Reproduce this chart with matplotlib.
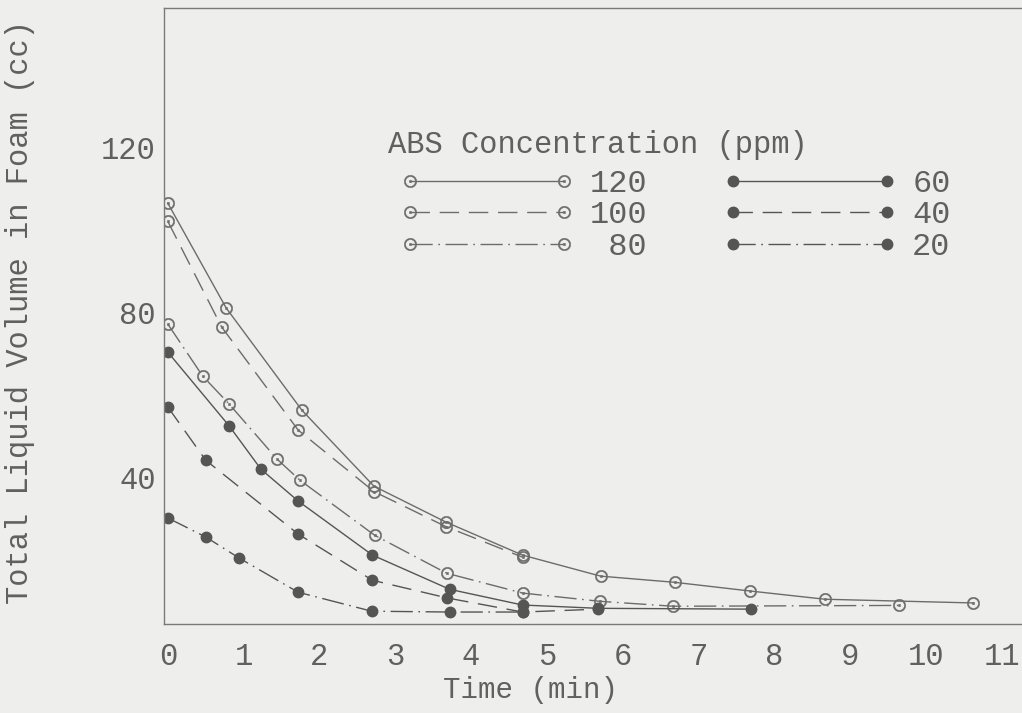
import matplotlib.pyplot as plt

# time (min) and liquid volume (cc)
t120 = [0, 0.77, 1.77, 2.72, 3.67, 4.68, 5.71, 6.69, 7.68, 8.67, 10.63]
v120 = [106.4, 81.0, 56.2, 37.8, 29.1, 21.1, 16.0, 14.5, 12.4, 10.4, 9.5]

t100 = [0, 0.71, 1.72, 2.72, 3.67, 4.68]
v100 = [102.0, 76.4, 51.4, 36.5, 28.0, 20.6]

t80 = [0, 0.46, 0.81, 1.44, 1.74, 2.73, 3.68, 4.68, 5.70, 6.67, 9.65]
v80 = [77.1, 64.5, 57.7, 44.4, 39.3, 25.9, 16.7, 11.9, 9.9, 8.7, 8.9]

t60 = [0, 0.81, 1.23, 1.72, 2.70, 3.72, 4.68, 5.68, 7.70]
v60 = [70.3, 52.4, 41.9, 34.2, 21.1, 12.8, 9.0, 8.2, 8.0]

t40 = [0, 0.50, 1.72, 2.70, 3.69, 4.68, 5.68]
v40 = [57.0, 44.1, 26.2, 15.0, 10.7, 7.3, 8.0]

t20 = [0, 0.50, 0.94, 1.72, 2.69, 3.72, 4.68]
v20 = [30.1, 25.5, 20.4, 12.1, 7.5, 7.3, 7.3]

xticks = list(range(0, 12))
yticks = [40, 80, 120]

paper = '#eeeeec'
ink = '#6c6c6c'
text_col = '#606060'
font = 'Liberation Mono'

solid = '-'
long_dash = (0, (14, 7))
dash_dot = (0, (16, 4, 1.2, 4))

fig = plt.figure(figsize=(10.22, 7.13), dpi=100, facecolor=paper)
ax = fig.add_axes([164 / 1022, 1 - 624 / 713, 1 - 164 / 1022, (624 - 8) / 713])
ax.set_facecolor(paper)

open_kw = dict(marker=r'$\odot$', markersize=9, color=ink, markeredgewidth=0.3)
fill_kw = dict(marker='o', markersize=7.5, color='#555555', markeredgecolor='#555555')

h120, = ax.plot(t120, v120, linestyle=solid, lw=1, label='120', **open_kw)
h100, = ax.plot(t100, v100, linestyle=long_dash, lw=1, label='100', **open_kw)
h80, = ax.plot(t80, v80, linestyle=dash_dot, lw=1, label=' 80', **open_kw)
h60, = ax.plot(t60, v60, linestyle=solid, lw=1, label='60', **fill_kw)
h40, = ax.plot(t40, v40, linestyle=long_dash, lw=1, label='40', **fill_kw)
h20, = ax.plot(t20, v20, linestyle=dash_dot, lw=1, label='20', **fill_kw)

ax.set_xlim(-0.05, 11.27)
ax.set_ylim(4.4, 153.7)
ax.set_xticks(xticks)
ax.set_yticks(yticks)
ax.tick_params(length=0, labelsize=22, colors=text_col)
ax.tick_params(axis='x', pad=13)
ax.tick_params(axis='y', pad=6)
for lbl in ax.get_xticklabels() + ax.get_yticklabels():
    lbl.set_family(font)

for side in ['left', 'bottom', 'top']:
    ax.spines[side].set_color('#7a7a7a')
    ax.spines[side].set_linewidth(1)
ax.spines['right'].set_visible(False)

ax.set_xlabel('Time (min)', family=font, fontsize=21, color=text_col, va='center')
ax.xaxis.set_label_coords(0.427, -0.107)
ax.set_ylabel('Total Liquid Volume in Foam (cc)', family=font, fontsize=22,
              color=text_col, va='center')
ax.yaxis.set_label_coords(-0.168, 0.506)

# legend title sits a little above the rows, so it is drawn on its own
ax.text(0.261, 0.778, 'ABS Concentration (ppm)', transform=ax.transAxes,
        family=font, fontsize=22, color=text_col, ha='left', va='center')

leg = ax.legend(handles=[h120, h100, h80, h60, h40, h20],
                loc='upper left', bbox_to_anchor=(0.276, 0.739), ncol=2,
                numpoints=2, handlelength=5.4, handletextpad=0.5,
                columnspacing=2.4, labelspacing=0.05, frameon=False,
                borderpad=0, borderaxespad=0,
                prop={'family': font, 'size': 23})
for txt in leg.get_texts():
    txt.set_color(text_col)

fig.savefig('out.png', dpi=100, facecolor=paper)
